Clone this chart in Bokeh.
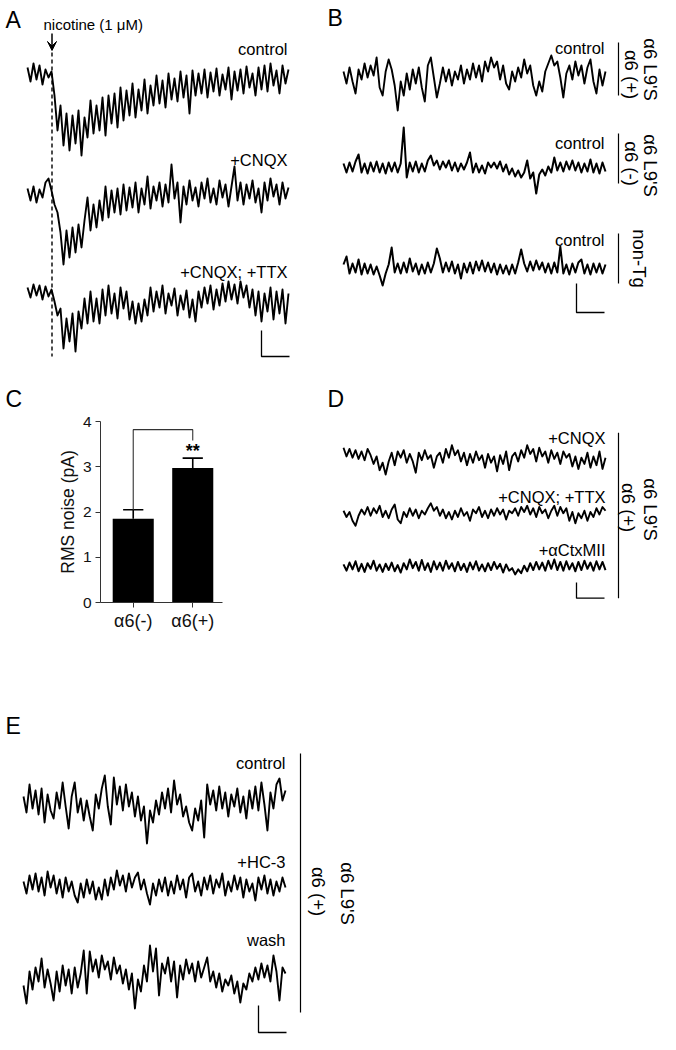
import math
import numpy as np
from bokeh.plotting import figure
from bokeh.layouts import column, row
from bokeh.models import Range1d, FixedTicker, Arrow, VeeHead
from bokeh.core.properties import value
from bokeh.embed import file_html
from bokeh.resources import INLINE

FONT = "Liberation Sans"

# ---------------- data (currents; up = outward) ----------------
# Panel A: nicotine-evoked currents
a_control = [8, -6, 12, -4, 10, -9, 6, -2, 4, -20,
             -55, -30, -70, -38, -75, -40, -68, -35, -80, -42,
             -62, -25, -58, -30, -55, -22, -60, -20, -48, -18,
             -52, -12, -45, -15, -40, -8, -42, -14, -35, -4,
             -38, -10, -30, 0, -28, -5, -32, 2, -24, -3,
             -26, 4, -22, 0, -38, 5, -20, 2, -18, 6,
             -22, 3, -16, 7, -20, 1, -14, 8, -24, 4,
             -15, 6, -18, 9, -12, 2, -20, 8, -14, 10,
             -16, 12, -10, 5, -18, 10, -8, 6]
a_cnqx = [4, -8, 6, -10, 3, -5, 10, 14, 2, -12,
          -20, -40, -72, -38, -65, -35, -60, -32, -55, -28,
          -5, -38, -12, -35, -8, -28, 6, -25, 2, -20,
          4, -22, 8, -18, 5, -15, 10, -20, 4, -12,
          16, -16, 6, -8, 10, -14, 8, -10, 28, -6,
          10, -30, 6, -12, 12, -8, 5, -14, 10, -6,
          14, -10, 4, -12, 12, -5, 8, -14, 6, 26,
          -8, 10, -12, 8, -6, 12, -10, 4, -20, 10,
          -8, 14, -4, 8, -12, 10, -6, 5]
a_cnqx_ttx = [6, -4, 9, -2, 8, -6, 7, -3, 4, -8,
              -22, -15, -55, -25, -48, -20, -58, -18, -35, -5,
              -30, 2, -28, -5, -30, 4, -22, 8, -20, 0,
              -25, 6, -15, 2, -26, -8, -30, -10, -28, -6,
              -22, 6, -18, 2, -14, 8, -20, 0, -12, 5,
              -22, -2, -16, 3, -24, -6, -28, 2, -14, 6,
              -10, 8, -16, 4, -12, 10, -8, 12, -6, 9,
              -10, 12, -4, 8, -14, 4, -22, 2, -28, 0,
              -18, 6, -26, 2, -20, 4, -30, 0]
# Panel B: baseline noise
b_a6_pos = [2, -10, 6, -8, -20, 4, -6, 10, -4, 8,
            -2, 16, -14, -22, 2, 14, 4, -12, -37, -8,
            -22, 0, -16, 4, -10, 6, -14, -28, 8, 16,
            -4, -24, -10, 6, -8, 4, -12, 2, -6, 8,
            -10, 4, -6, 10, -4, 8, -8, 12, 2, 16,
            6, 12, -6, 8, -10, -16, 2, -8, 6, -4,
            14, 0, 8, -12, -22, -8, -18, 2, 10, 18,
            8, 12, -4, -24, 0, 8, -6, 12, -2, 8,
            -10, 6, 14, -8, -20, 4, -12, 2]
b_a6_neg = [4, -5, 5, -4, 6, 13, -5, 4, -6, 5,
            -4, 6, -5, 4, -6, 5, -4, 5, -5, 4,
            40, -10, 5, -4, 6, -5, 4, -4, 7, 12,
            2, 7, -2, 6, 0, 7, -3, 5, -4, 4,
            -2, 5, 15, -5, 4, -5, 2, -6, 5, 0,
            5, -1, 6, -4, 3, -7, -1, -9, -3, -10,
            -5, 7, -11, -5, -26, -7, -2, -8, 1, -5,
            10, -3, 5, -4, 6, -2, 7, -3, 5, -5,
            4, -4, 8, -5, 4, -6, 5, -4]
b_non_tg = [4, 12, -5, 5, -4, 9, -6, 5, -5, 4,
            -6, 2, -7, -17, -5, 4, 21, -4, 5, -5,
            6, -4, 10, -3, 5, -6, 4, -5, 6, -4,
            5, 20, 10, -4, 6, -3, 7, -5, 4, -10,
            5, -4, 6, -5, 7, -2, 8, -3, 6, -4,
            5, -6, 4, -5, 3, -6, 4, -5, 6, 19,
            5, -3, 7, -2, 8, -1, 6, -4, 5, -5,
            6, -4, 22, -5, 4, -6, 5, -4, 6, 9,
            -5, 4, -6, 5, -4, 5, -5, 4]
# Panel C: RMS noise (pA)
c_groups = ["α6(-)", "α6(+)"]
c_mean = [1.85, 2.97]
c_sem = [0.20, 0.22]
c_ticks = [0, 1, 2, 3, 4]
# Panel D
d_cnqx = [18, 4, 16, 2, 14, 0, 12, -2, 16, 6,
          -8, 4, -18, -6, -25, -4, 10, -10, 12, 2,
          14, -6, 8, -4, -22, 10, -2, 14, 0, 6,
          -14, 4, 10, -6, 16, 2, 22, 6, 14, -4,
          10, -10, 8, -6, 12, -2, 6, -14, 8, -6,
          4, -20, 6, -8, 12, -18, 4, 10, -4, 14,
          2, 22, 8, 16, -4, 18, 4, 12, -6, 14,
          0, 10, -8, 12, 2, 8, -12, 4, -16, 2,
          -8, 10, -14, 4, -10, 12, -16, 2]
d_cnqx_ttx = [4, -6, 2, -12, -20, -4, 6, -2, 10, -4,
              8, 0, 12, -6, 4, -8, 6, 14, -10, -16,
              2, -6, 8, -4, 6, -8, 4, -2, 8, 16,
              4, 10, -4, 6, -8, 2, -10, 4, -6, 8,
              -4, 2, -12, 6, 0, 10, -6, 4, -8, 6,
              -4, 8, -2, 6, -10, 4, 0, 8, -4, 10,
              2, 12, -2, 8, -6, 10, 0, 6, -8, 4,
              12, -4, 10, 0, 8, -12, 2, -16, 0, -8,
              4, -12, 2, -6, 8, -2, 10, 4]
d_ctxmii = [4, -6, 7, -4, 9, -7, 5, -8, 6, -3,
            10, -6, 4, -8, 5, -5, 7, -7, 3, -9,
            6, -4, 12, -2, 8, -6, 11, -5, 6, -8,
            9, -4, 7, -6, 10, -3, 6, -7, 8, -5,
            5, -8, 7, -4, 9, -6, 4, -7, 6, -5,
            8, -3, 5, -9, 4, -6, -2, -12, -4, -10,
            2, -7, 6, -5, 8, -4, 7, -6, 10, -3,
            12, -5, 8, -6, 9, -4, 6, -7, 8, -5,
            10, -3, 7, -6, 9, -4, 8, -5]
# Panel E
e_control = [6, -10, 18, -6, 12, -12, 14, -20, 8, -8,
             -16, 10, -6, 20, -4, -26, 6, 20, -10, 4,
             -18, 2, -14, -28, 8, -6, 14, 27, -4, -22,
             25, -2, 16, -8, 18, -4, 10, -14, 6, -18,
             -4, -41, -8, -20, 2, -12, 10, -6, 14, -10,
             22, -2, 8, -14, -4, -20, -28, -6, -18, 2,
             -35, 18, -2, 12, -8, 16, -6, 10, -14, 8,
             -4, 14, -10, 6, -16, 12, -6, 16, -8, 20,
             -2, -28, 10, -6, 18, 24, 2, 12]
e_hc3 = [4, -8, 10, -4, 12, -6, 8, -10, 14, -2,
         10, -8, 6, -12, 8, -6, 4, -10, -17, 2,
         -12, 6, -8, 4, -14, -2, -14, 6, -10, 8,
         -4, 15, 0, 10, -6, 12, -2, 8, 13, -4,
         6, -8, -19, 2, -10, 6, -6, 8, -10, 4,
         -8, 10, -4, 6, -12, 8, 12, -6, 4, -10,
         8, -4, 10, -8, 6, -2, 12, -10, 4, -6,
         10, -4, 8, -12, 6, -6, 2, -15, 8, -4,
         10, -8, 6, -10, 4, -6, 8, -2]
e_wash = [-10, -28, 4, -14, 8, -6, 17, -12, 6, -8,
          -25, 4, -16, 10, -10, 6, -18, 8, -12, 2,
          25, -18, 24, 4, 16, -2, 20, 6, 14, -4,
          18, 2, 10, -8, 6, -14, 2, -33, -4, -16,
          10, -6, 30, 4, 27, -20, 12, 2, 18, -6,
          14, -22, 10, -4, 16, 2, 12, -6, 14, -2,
          8, 18, -6, 4, -12, 2, -16, -4, -10, 0,
          -18, -6, -27, -8, -14, 2, -6, 8, -4, 12,
          -2, 10, -6, 20, 4, -25, 8, 2]

TXT_SHIFT = 6  # alphabetic-baseline texts render a little low; compensate


# ---------------- helpers ----------------
def canvas(x0, y0, w, h):
    p = figure(width=w, height=h, x_range=Range1d(x0, x0 + w), y_range=Range1d(y0 + h, y0),
               output_backend="svg", toolbar_location=None,
               x_axis_location=None, y_axis_location=None, min_border=0)
    p.outline_line_color = None
    p.grid.visible = False
    return p


def trace(p, vals, x_left, x_right, base, lw=1.9):
    v = np.asarray(vals, dtype=float)
    x = np.linspace(x_left, x_right, len(v))
    p.line(x, base - v, line_color="black", line_width=lw, line_join="round")


def label(p, x, y, txt, size="16.5px", align="right", angle=0.0, baseline="alphabetic", style="normal"):
    if baseline == "alphabetic":
        y = y - TXT_SHIFT
    p.text(x=[x], y=[y], text=[txt], text_font=value(FONT), text_font_size=value(size),
           text_align=align, text_baseline=baseline, angle=angle, text_color="black",
           text_font_style=style)


def vlabel(p, x, y, txt, size="18.5px"):
    label(p, x, y, txt, size=size, align="center", angle=-math.pi / 2, baseline="middle")


def vbar_line(p, x, y0, y1):
    p.line([x, x], [y0, y1], line_color="black", line_width=1.2)


def scalebar(p, x, y_top, y_bot, length=28):
    p.line([x, x, x + length], [y_top, y_bot, y_bot], line_color="black", line_width=1.3)


# ---------------- Panel A ----------------
pa = canvas(0, 0, 307, 410)
label(pa, 5, 25, "A", size="23px", align="left")
label(pa, 43, 30, "nicotine (1 μM)", size="15px", align="left")
pa.add_layout(Arrow(end=VeeHead(size=9, fill_color="black", line_color="black"),
                    x_start=51.5, y_start=33, x_end=51.5, y_end=50,
                    line_color="black", line_width=1.5))
pa.line([51.5, 51.5], [52, 356], line_color="black", line_width=1.4, line_dash="4 3")
trace(pa, a_control, 27, 288, 75)
trace(pa, a_cnqx, 27, 288, 192)
trace(pa, a_cnqx_ttx, 27, 288, 293)
label(pa, 287, 54, "control")
label(pa, 287, 165, "+CNQX")
label(pa, 287, 277, "+CNQX; +TTX")
scalebar(pa, 261, 330, 356)
label(pa, 5, 404, "C", size="23px", align="left")

# ---------------- Panel B ----------------
pb = canvas(307, 0, 353, 410)
label(pb, 327, 23, "B", size="23px", align="left")
trace(pb, b_a6_pos, 343, 605, 73)
trace(pb, b_a6_neg, 343, 605, 167, lw=2.0)
trace(pb, b_non_tg, 343, 605, 268, lw=2.0)
label(pb, 604, 53, "control")
label(pb, 604, 148, "control")
label(pb, 604, 245, "control")
vbar_line(pb, 618, 42, 95)
vbar_line(pb, 618, 133, 183)
vbar_line(pb, 618, 233, 283)
vlabel(pb, 650, 69, "α6 L9'S")
vlabel(pb, 631, 74, "α6 (+)")
vlabel(pb, 650, 165, "α6 L9'S")
vlabel(pb, 631, 163, "α6 (-)")
vlabel(pb, 639, 258, "non-Tg")
scalebar(pb, 576, 283, 312)
label(pb, 327, 404, "D", size="23px", align="left")

# ---------------- Panel C (bar chart) ----------------
xc = [i + 0.5 for i in range(len(c_groups))]
pc = figure(width=307, height=290, x_range=Range1d(-0.05, 2.0), y_range=Range1d(0, 4),
            output_backend="svg", toolbar_location=None,
            min_border_left=100, min_border_right=85, min_border_top=11, min_border_bottom=98)
pc.outline_line_color = None
pc.grid.visible = False
pc.vbar(x=xc, top=c_mean, bottom=0, width=0.69, fill_color="black", line_color=None)
tops = [m + s for m, s in zip(c_mean, c_sem)]
pc.segment(x0=xc, y0=c_mean, x1=xc, y1=tops, line_color="black", line_width=1.6)
pc.segment(x0=[x - 0.17 for x in xc], y0=tops, x1=[x + 0.17 for x in xc], y1=tops,
           line_color="black", line_width=1.6)
pc.line([xc[0], xc[0], xc[1], xc[1]], [tops[0], 3.82, 3.82, 3.58], line_color="#333333", line_width=1.1)
pc.text(x=[xc[1]], y=[3.34], text=["**"], text_font=value(FONT), text_font_size=value("18px"),
        text_align="center", text_baseline="alphabetic", text_font_style="bold", text_color="black")
for ax in (pc.xaxis[0], pc.yaxis[0]):
    ax.axis_line_color = "#333333"
    ax.major_tick_line_color = "#333333"
    ax.minor_tick_line_color = None
    ax.major_tick_in = 0
    ax.major_tick_out = 5
    ax.major_label_text_font = FONT
    ax.major_label_text_color = "#111111"
    ax.major_label_text_font_size = "15.5px"
pc.yaxis[0].ticker = FixedTicker(ticks=c_ticks)
pc.yaxis[0].axis_label = "RMS noise (pA)"
pc.yaxis[0].axis_label_text_font = FONT
pc.yaxis[0].axis_label_text_font_style = "normal"
pc.yaxis[0].axis_label_text_font_size = "17.5px"
pc.yaxis[0].axis_label_text_color = "#111111"
pc.yaxis[0].axis_label_standoff = 2
pc.yaxis[0].major_label_standoff = 4
pc.xaxis[0].ticker = FixedTicker(ticks=xc)
pc.xaxis[0].major_label_overrides = {x: g for x, g in zip(xc, c_groups)}
pc.xaxis[0].major_label_standoff = 3
pc.xaxis[0].major_label_text_font_size = "18px"

# ---------------- Panel D ----------------
pd_ = canvas(307, 410, 353, 290)
trace(pd_, d_cnqx, 343, 605, 470)
trace(pd_, d_cnqx_ttx, 343, 605, 557)
trace(pd_, d_ctxmii, 343, 605, 643, lw=2.0)
label(pd_, 605, 443, "+CNQX")
label(pd_, 605, 537, "+CNQX; +TTX")
label(pd_, 605, 622, "+αCtxMII")
vbar_line(pd_, 618, 428, 693)
vlabel(pd_, 650, 551, "α6 L9'S")
vlabel(pd_, 628, 548, "α6 (+)")
scalebar(pd_, 576, 668, 693)

# ---------------- Panel E ----------------
pe = canvas(0, 700, 660, 334)
label(pe, 5, 731, "E", size="23px", align="left")
trace(pe, e_control, 23, 285, 802)
trace(pe, e_hc3, 23, 285, 885)
trace(pe, e_wash, 23, 285, 975)
label(pe, 285, 768, "control")
label(pe, 285, 867, "+HC-3")
label(pe, 285, 945, "wash")
vbar_line(pe, 300, 753, 1012)
vlabel(pe, 347, 893, "α6 L9'S")
vlabel(pe, 318, 891, "α6 (+)")
scalebar(pe, 258, 1005, 1032)

layout = column(row(pa, pb), row(pc, pd_), pe)
open("out.html", "w").write(file_html(layout, INLINE))
